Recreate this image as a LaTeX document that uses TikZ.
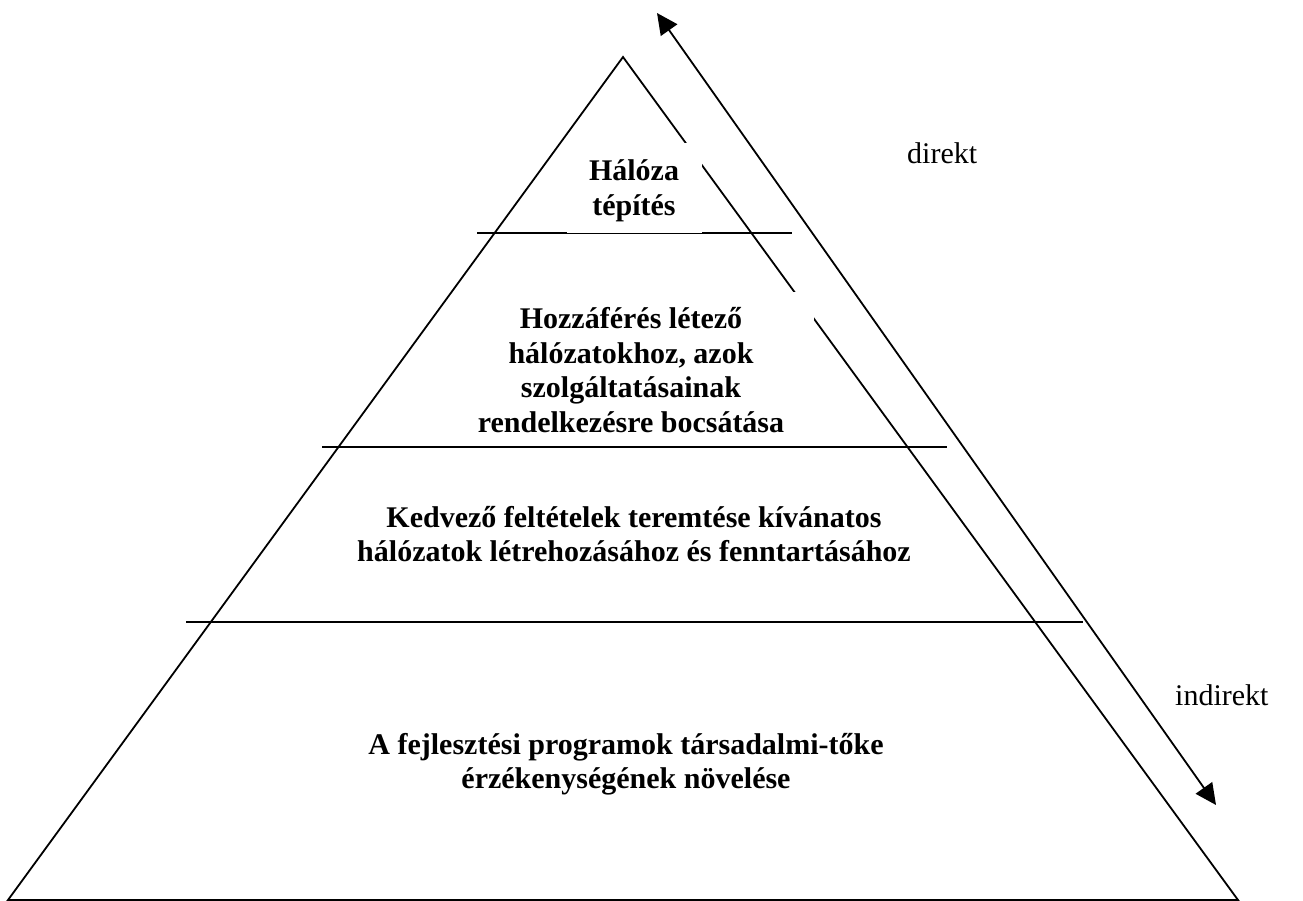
\documentclass[tikz,border=0pt]{standalone}
\usepackage{fontspec}
\setmainfont{Liberation Serif}
\usetikzlibrary{arrows.meta}
\begin{document}
\begin{tikzpicture}[x=1pt,y=-1pt,
  edge/.style={line width=1.8pt, black},
  mask/.style={fill=white, draw=none},
  level/.style={font=\fontsize{30}{34.5}\selectfont\bfseries, align=center, inner sep=0pt},
  side/.style={font=\fontsize{30}{34.5}\selectfont, inner sep=0pt}]
\useasboundingbox (0,0) rectangle (1303,900);
% triangle
\coordinate (apex) at (623,57);
\coordinate (bl) at (8,900);
\coordinate (br) at (1238,900);
\draw[edge, line join=miter] (bl) -- (apex) -- (br) -- cycle;
% level lines
\coordinate (l1a) at (477,233); \coordinate (l1b) at (792,233);
\coordinate (l2a) at (322,447); \coordinate (l2b) at (947,447);
\coordinate (l3a) at (186,622); \coordinate (l3b) at (1083,622);
\draw[edge] (l1a) -- (l1b);
\draw[edge] (l2a) -- (l2b);
\draw[edge] (l3a) -- (l3b);
% white text-box masks (gaps in the right side)
\fill[mask] (567,143) rectangle (702,233);
\fill[mask] (470,292) rectangle (814,440);
% arrow
\coordinate (atop) at (657,13);
\coordinate (abot) at (1216,805);
\draw[edge, {Triangle[length=21pt,width=20pt]}-{Triangle[length=21pt,width=20pt]}] (atop) -- (abot);
% texts
\node[level] (t1) at (634,191) {Hálóza\\tépítés};
\node[level] (t2) at (631,370) {Hozzáférés létező\\hálózatokhoz, azok\\szolgáltatásainak\\rendelkezésre bocsátása};
\node[level] (t3) at (634,534) {Kedvező feltételek teremtése kívánatos\\hálózatok létrehozásához és fenntartásához};
\node[level] (t4) at (626,764) {A fejlesztési programok társadalmi-tőke\\érzékenységének növelése};
\node[side, anchor=base west] (d) at (907,163) {direkt};
\node[side, anchor=base west] (i) at (1175,705) {indirekt};
\end{tikzpicture}
\end{document}
